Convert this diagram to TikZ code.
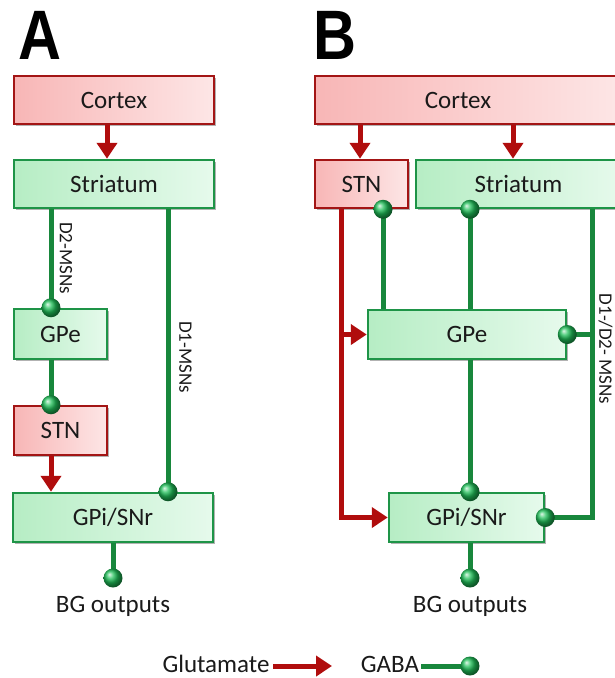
\documentclass[tikz,border=0pt]{standalone}
\usepackage{fontspec}
\setmainfont{Carlito}
\newfontfamily\hvfont{Liberation Sans}
\usetikzlibrary{arrows.meta,shadows}
\definecolor{redbd}{HTML}{A31515}
\definecolor{redA}{HTML}{F8B6B6}
\definecolor{redB}{HTML}{FDE6E6}
\definecolor{grnbd}{HTML}{1E9447}
\definecolor{grnA}{HTML}{B6EDC4}
\definecolor{grnB}{HTML}{E6FAEC}
\definecolor{glucol}{HTML}{B00D0D}
\definecolor{gabacol}{HTML}{18873C}
\definecolor{ballcol}{HTML}{1FBF58}
\definecolor{txtcol}{HTML}{1A1A1A}
\begin{document}
\begin{tikzpicture}[x=1pt,y=-1pt,
  box/.style={rectangle, line width=2.5pt, inner sep=0pt, drop shadow={shadow xshift=2pt,shadow yshift=-2pt,opacity=0.3,fill=black}},
  redbox/.style={box, draw=redbd, left color=redA, right color=redB},
  grnbox/.style={box, draw=grnbd, left color=grnA, right color=grnB},
  lbl/.style={font=\fontsize{25}{30}\selectfont, text=txtcol, inner sep=0pt},
  smalllbl/.style={font=\fontsize{19}{22}\selectfont, text=txtcol, inner sep=0pt, rotate=-90},
  glu/.style={draw=glucol, line width=5pt, -{Triangle[width=20pt,length=16pt,fill=glucol]}},
  gaba/.style={draw=gabacol, line width=5pt},
  ball/.style={circle, inner sep=0pt, minimum size=19pt, ball color=ballcol},
  bigletter/.style={font=\hvfont\bfseries\fontsize{70}{72}\selectfont, inner sep=0pt},
]
\useasboundingbox (0,0) rectangle (614,678);
\fill[white] (0,0) rectangle (614,678);

% panel letters
\node[bigletter] (LA) at (40,35) {\scalebox{0.85}[1]{A}};
\node[bigletter] (LB) at (335,35) {\scalebox{0.85}[1]{B}};

% ---------- Panel A boxes ----------
\node[redbox, minimum width=200pt, minimum height=48pt, lbl] (Acx) at (114,100) {Cortex};
\node[grnbox, minimum width=200pt, minimum height=48pt, lbl] (Astr) at (114,184) {Striatum};
\node[grnbox, minimum width=93pt, minimum height=50pt, lbl] (AGPe) at (60.5,334) {GPe};
\node[redbox, minimum width=93pt, minimum height=49pt, lbl] (ASTN) at (60.5,430.5) {STN};
\node[grnbox, minimum width=200pt, minimum height=49pt, lbl] (AGPi) at (113,517.5) {GPi/SNr};

\coordinate (ax1) at (107,0);
\coordinate (ax2) at (51,0);
\coordinate (ax3) at (168,0);
\coordinate (ax4) at (113,0);
\coordinate (Aoutc) at (113,578);

\draw[glu] (Acx.south -| ax1) -- (Astr.north -| ax1);
\draw[gaba] (Astr.south -| ax2) -- (AGPe.north -| ax2);
\draw[gaba] (Astr.south -| ax3) -- (AGPi.north -| ax3);
\draw[gaba] (AGPe.south -| ax2) -- (ASTN.north -| ax2);
\draw[glu] (ASTN.south -| ax2) -- (AGPi.north -| ax2);
\draw[gaba] (AGPi.south -| ax4) -- (Aoutc);

\node[ball] (Ab1) at (AGPe.north -| ax2) {};
\node[ball] (Ab2) at (AGPi.north -| ax3) {};
\node[ball] (Ab3) at (ASTN.north -| ax2) {};
\node[ball] (Aout) at (Aoutc) {};
\node[lbl] (Aoutt) at (113,606) {BG outputs};

\node[smalllbl] (Ad2) at (66,258) {D2-MSNs};
\node[smalllbl] (Ad1) at (185.5,357) {D1-MSNs};

% ---------- Panel B boxes ----------
\node[redbox, minimum width=306pt, minimum height=48pt] (Bcx) at (468,100) {};
\node[lbl] (Bcxt) at (458,100) {Cortex};
\node[redbox, minimum width=93pt, minimum height=48pt, lbl] (BSTN) at (361.5,184) {STN};
\node[grnbox, minimum width=205pt, minimum height=48pt, lbl] (BStr) at (518.5,184) {Striatum};
\node[grnbox, minimum width=198pt, minimum height=49pt, lbl] (BGPe) at (467,334.5) {GPe};
\node[grnbox, minimum width=155pt, minimum height=49pt, lbl] (BGPi) at (466.5,517.5) {GPi/SNr};

\coordinate (bx1) at (341,0);
\coordinate (bx2) at (360,0);
\coordinate (bx3) at (383,0);
\coordinate (bx4) at (470,0);
\coordinate (bx5) at (513,0);
\coordinate (bx6) at (592,0);
\coordinate (Boutc) at (470,578);

\draw[glu] (Bcx.south -| bx2) -- (BSTN.north -| bx2);
\draw[glu] (Bcx.south -| bx5) -- (BStr.north -| bx5);
\draw[gaba] (BGPe.north -| bx3) -- (BSTN.south -| bx3);
\draw[gaba] (BGPe.north -| bx4) -- (BStr.south -| bx4);
\draw[gaba] (BGPe.south -| bx4) -- (BGPi.north -| bx4);
\draw[gaba] (BStr.south -| bx6) |- (BGPi.east);
\draw[gaba] (bx6 |- BGPe.east) -- (BGPe.east);
\draw[glu] (BSTN.south -| bx1) |- (BGPi.west);
\draw[glu] (bx1 |- BGPe.west) -- (BGPe.west);
\draw[gaba] (BGPi.south -| bx4) -- (Boutc);

\node[ball] (Bb1) at (BSTN.south -| bx3) {};
\node[ball] (Bb2) at (BStr.south -| bx4) {};
\node[ball] (Bb3) at (BGPi.north -| bx4) {};
\node[ball] (Bb4) at (BGPi.east) {};
\node[ball] (Bb5) at (BGPe.east) {};
\node[ball] (Bout) at (Boutc) {};
\node[lbl] (Boutt) at (470,606) {BG outputs};

\node[smalllbl] (Bd) at (605.5,349) {D1-/D2- MSNs};

% ---------- Legend ----------
\node[lbl] (Lglu) at (216,664) {Glutamate};
\coordinate (Lg1) at (273,666);
\coordinate (Lg2) at (332,666);
\draw[glu] (Lg1) -- (Lg2);
\node[lbl] (Lgaba) at (390,664) {GABA};
\coordinate (Lb1) at (421,666);
\coordinate (Lb2) at (470,666);
\draw[gaba] (Lb1) -- (Lb2);
\node[ball] (Lball) at (Lb2) {};
\end{tikzpicture}
\end{document}
